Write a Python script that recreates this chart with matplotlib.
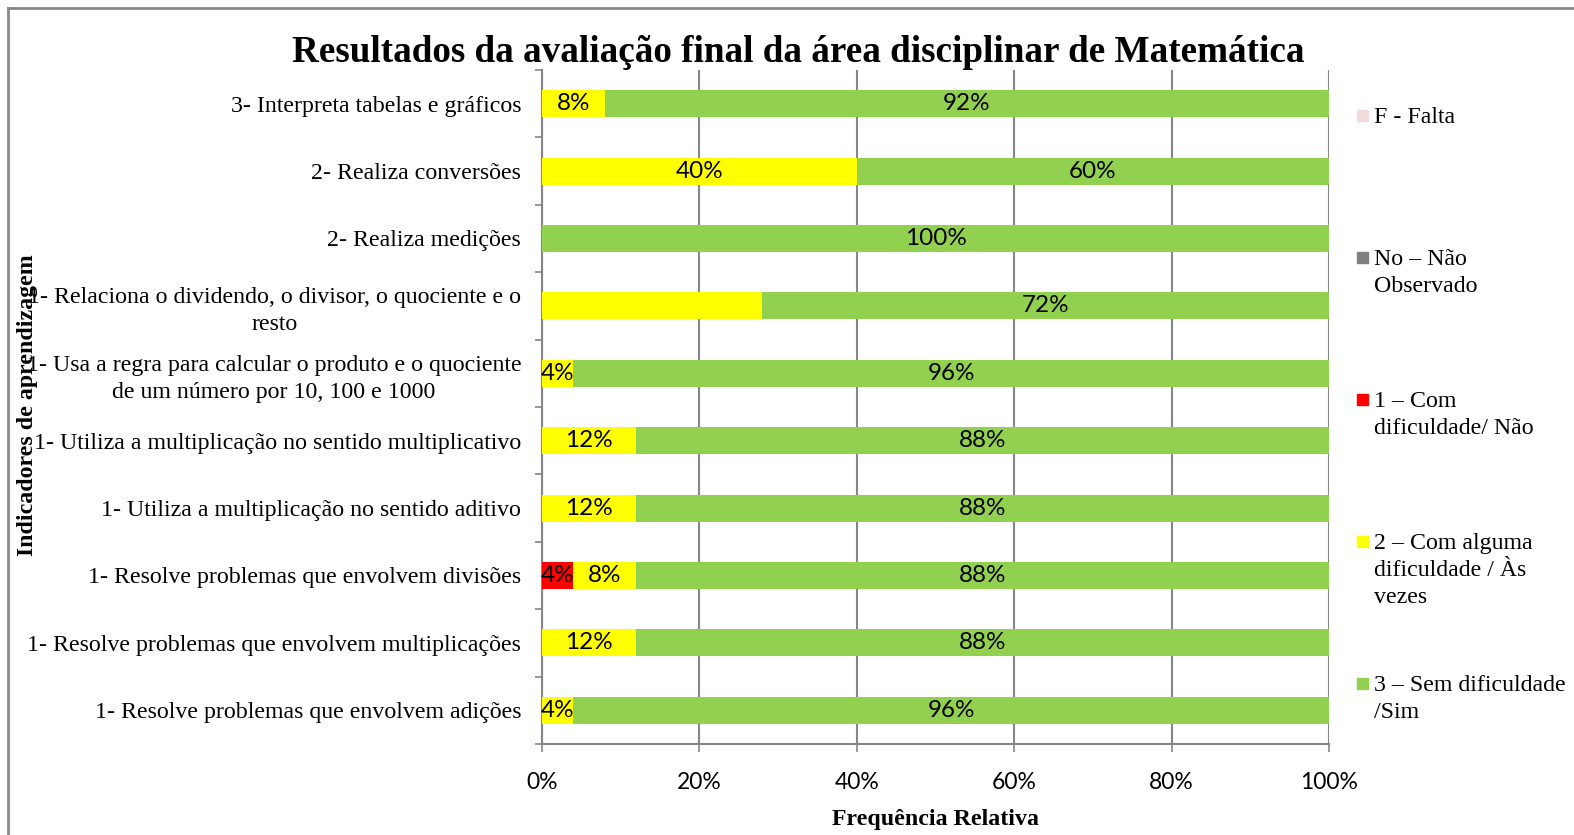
import matplotlib
matplotlib.use("Agg")
import matplotlib.pyplot as plt
import numpy as np
from matplotlib.lines import Line2D
from matplotlib.patches import Rectangle

categories = [
    "1- Resolve problemas que envolvem adições",
    "1- Resolve problemas que envolvem multiplicações",
    "1- Resolve problemas que envolvem divisões",
    "1- Utiliza a multiplicação no sentido aditivo",
    "1- Utiliza a multiplicação no sentido multiplicativo",
    "1- Usa a regra para calcular o produto e o quociente\nde um número por 10, 100 e 1000",
    "1- Relaciona o dividendo, o divisor, o quociente e o\nresto",
    "2- Realiza medições",
    "2- Realiza conversões",
    "3- Interpreta tabelas e gráficos",
]
falta = [0, 0, 0, 0, 0, 0, 0, 0, 0, 0]
nao_observado = [0, 0, 0, 0, 0, 0, 0, 0, 0, 0]
com_dificuldade = [0, 0, 4, 0, 0, 0, 0, 0, 0, 0]
alguma_dificuldade = [4, 12, 8, 12, 12, 4, 28, 0, 40, 8]
sem_dificuldade = [96, 88, 88, 88, 88, 96, 72, 100, 60, 92]
# which segments show a data label (the 28% segment has none in the original)
show_label_alguma = [True, True, True, True, True, True, False, True, True, True]

series_names = ["F - Falta", "No – Não\nObservado", "1 – Com\ndificuldade/ Não",
                "2 – Com alguma\ndificuldade / Às\nvezes", "3 – Sem dificuldade\n/Sim"]
series_colors = ["#F2DCDB", "#808080", "#FF0000", "#FFFF00", "#92D050"]

serif = ["Liberation Serif", "DejaVu Serif"]
sans = ["Lato", "DejaVu Sans"]
FS = 17.2

fig = plt.figure(figsize=(15.74, 8.35), dpi=100)
ax = fig.add_axes([542/1574, 91/835, 787/1574, 674/835])

y = np.arange(len(categories))
h = 0.4
series = [falta, nao_observado, com_dificuldade, alguma_dificuldade, sem_dificuldade]
left = np.zeros(len(categories))
for si, (vals, col) in enumerate(zip(series, series_colors)):
    vals = np.array(vals, dtype=float)
    ax.barh(y, vals, left=left, height=h, color=col, zorder=3)
    for i, v in enumerate(vals):
        if v > 0:
            if si == 3 and not show_label_alguma[i]:
                continue
            ax.text(left[i] + v / 2, y[i], f"{int(v)}%", ha="center", va="center",
                    fontsize=17.5, family=sans, color="black", zorder=4)
    left += vals

ax.set_xlim(0, 100)
ax.set_ylim(-0.5, len(categories) - 0.5)
ax.set_xticks(np.arange(0, 101, 20))
ax.set_xticklabels([f"{t}%" for t in range(0, 101, 20)], family=sans, fontsize=16.5)
ax.set_yticks(y)
ax.set_yticklabels(categories, family=serif, fontsize=FS, multialignment="center",
                   linespacing=1.38)
ax.set_yticks(np.arange(-0.5, len(categories), 1), minor=True)
ax.tick_params(axis="y", which="major", length=0, pad=15)
ax.tick_params(axis="y", which="minor", length=5, color="#868686", width=1.2)
ax.tick_params(axis="x", length=6, color="#868686", width=1.2, pad=14)
ax.grid(axis="x", color="#868686", linewidth=1.5, zorder=0)
for s in ["top", "right"]:
    ax.spines[s].set_visible(False)
for s in ["left", "bottom"]:
    ax.spines[s].set_color("#868686")
    ax.spines[s].set_linewidth(1.5)

ax.set_xlabel("Frequência Relativa", family=serif, fontsize=FS, fontweight="bold", labelpad=12)
fig.text(28/1574, 1 - 405/835, "Indicadores de aprendizagem", rotation=90, ha="center", va="center",
         family=serif, fontsize=FS, fontweight="bold")
fig.text(798/1574, 1 - 52/835, "Resultados da avaliação final da área disciplinar de Matemática",
         ha="center", va="center", family=serif, fontsize=26.7, fontweight="bold")

# legend
legend_y = [114, 256, 398, 540, 682]
for name, col, yy in zip(series_names, series_colors, legend_y):
    fig.patches.append(Rectangle((1357/1574, 1 - (yy + 7)/835), 11/1574, 11/835,
                                 transform=fig.transFigure, color=col, figure=fig))
    fig.text(1374/1574, 1 - (yy - 7)/835, name, ha="left", va="top", family=serif,
             fontsize=FS, linespacing=1.38)

# outer border (top and left visible)
fig.add_artist(Line2D([8/1574, 1], [1 - 8/835, 1 - 8/835], color="#888888", lw=2, transform=fig.transFigure))
fig.add_artist(Line2D([8/1574, 8/1574], [0, 1 - 8/835], color="#888888", lw=2, transform=fig.transFigure))

fig.savefig("out.png", dpi=100, facecolor="white")
